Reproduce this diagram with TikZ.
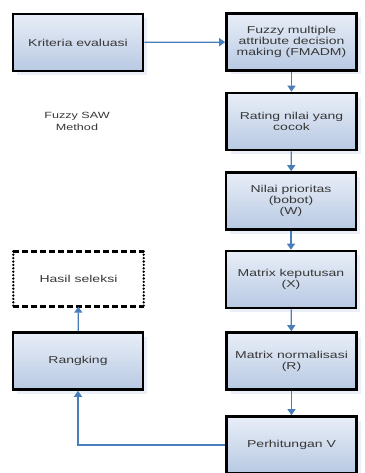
\documentclass[tikz,border=0pt]{standalone}
\usepackage{fontspec}
\newfontfamily\boxfont[FakeStretch=1.4]{Liberation Sans}
\usepackage{tikz}
\usetikzlibrary{arrows.meta,shadows}
\definecolor{boxtop}{RGB}{232,238,247}
\definecolor{boxbot}{RGB}{184,201,227}
\definecolor{arrowblue}{RGB}{74,126,187}
\definecolor{txtgray}{RGB}{55,55,55}

\begin{document}
\begin{tikzpicture}[x=1pt,y=-1pt]
        \tikzset{stepbox/.style = {shape=rectangle,draw,line width=2.6pt,minimum width=130pt,minimum height=57pt,
                top color=boxtop,bottom color=boxbot,align=center,font=\boxfont\fontsize{10pt}{11pt}\selectfont,text=txtgray,
                drop shadow={shadow xshift=4pt,shadow yshift=-4pt,fill=boxbot!35,opacity=0.8}}}
        \tikzset{resultbox/.style = {shape=rectangle,minimum width=130pt,minimum height=55pt,fill=white,
                align=center,font=\boxfont\fontsize{10pt}{11pt}\selectfont,text=txtgray}}
        \tikzset{hdash/.style = {line width=2.6pt,dash pattern=on 6pt off 3pt}}
        \tikzset{vdot/.style = {line width=2.6pt,line cap=round,dash pattern=on 0pt off 3.4pt}}
        \tikzset{flow/.style = {-{Triangle[width=8pt,length=6pt]},line width=1.2pt,draw=arrowblue}}
        \clip (0,0) rectangle (364,473);
        \fill[white] (0,0) rectangle (364,473);
        % boxes
        \node[stepbox] (kriteria) at (78,42.5) {Kriteria evaluasi};
        \node[stepbox] (fmadm) at (291.5,42) {Fuzzy multiple\\attribute decision\\making (FMADM)};
        \node[stepbox] (rating) at (291.5,121.5) {Rating nilai yang\\cocok};
        \node[stepbox] (nilai) at (291,201) {Nilai prioritas\\(bobot)\\(W)};
        \node[stepbox] (keputusan) at (291,279.5) {Matrix keputusan\\(X)};
        \node[stepbox] (normalisasi) at (291.5,361) {Matrix normalisasi\\(R)};
        \node[stepbox] (perhitungan) at (291.5,445) {Perhitungan V};
        \node[stepbox] (rangking) at (78,361) {Rangking};
        \node[resultbox] (hasil) at (78.5,279) {Hasil seleksi};
        \draw[hdash] (hasil.north west) -- (hasil.north east);
        \draw[hdash] (hasil.south west) -- (hasil.south east);
        \draw[vdot] (hasil.north west) -- (hasil.south west);
        \draw[vdot] (hasil.north east) -- (hasil.south east);
        \node[align=center,font=\boxfont\fontsize{9pt}{12pt}\selectfont,text=txtgray] (saw) at (77,121) {Fuzzy SAW\\Method};

        % arrows
        \draw[flow] (kriteria) -- (fmadm);
        \draw[flow] (fmadm) -- (rating);
        \draw[flow] (rating) -- (nilai);
        \draw[flow] (nilai) -- (keputusan);
        \draw[flow] (keputusan) -- (normalisasi);
        \draw[flow] (normalisasi) -- (perhitungan);
        \draw[flow] (perhitungan.west) -| (rangking.south);
        \draw[flow] (rangking) -- (hasil);
\end{tikzpicture}
\end{document}
